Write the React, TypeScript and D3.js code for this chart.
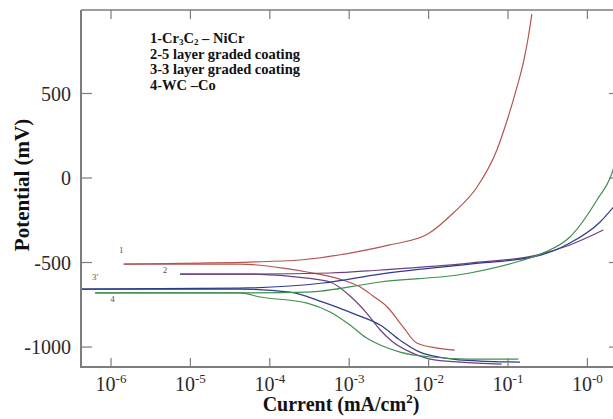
import { useEffect } from 'react'
import * as d3 from 'd3'

// log10(current, mA/cm2) and potential (mV)
const c1AnodicLogI = [-5.84, -4.88, -4.25, -3.62, -2.99, -2.49, -2.01, -1.69, -1.39, -1.14, -1.01, -0.89, -0.8, -0.74, -0.7]
const c1AnodicE = [-509, -503, -497, -485, -444, -396, -331, -207, -53, 166, 343, 533, 698, 846, 970]
const c1CathodicLogI = [-5.84, -4.88, -4.38, -3.83, -3.53, -3.12, -2.86, -2.7, -2.52, -2.32, -2.15, -1.89, -1.67]
const c1CathodicE = [-509, -509, -509, -533, -556, -598, -645, -698, -763, -882, -976, -1006, -1018]

const c2AnodicLogI = [-5.13, -4.25, -3.24, -2.61, -1.48, -0.64, -0.22, 0.2]
const c2AnodicE = [-568, -568, -562, -544, -503, -456, -396, -308]
const c2CathodicLogI = [-5.13, -4.25, -3.53, -3.24, -2.99, -2.78, -2.61, -2.45, -2.23, -1.98, -1.6, -1.08]
const c2CathodicE = [-568, -568, -592, -615, -698, -799, -899, -970, -1030, -1071, -1089, -1101]

const c3AnodicLogI = [-6.4, -4.38, -3.33, -2.61, -1.48, -0.64, -0.22, 0.16, 0.35]
const c3AnodicE = [-657, -651, -621, -568, -509, -462, -385, -260, -160]
const c3CathodicLogI = [-6.4, -4.38, -3.75, -3.33, -2.9, -2.61, -2.36, -2.11, -1.79, -1.35, -0.85]
const c3CathodicE = [-657, -657, -675, -734, -811, -870, -959, -1030, -1065, -1083, -1089]

const c4AnodicLogI = [-6.2, -4.38, -3.53, -2.61, -1.48, -0.85, -0.56, -0.22, 0.12, 0.31, 0.36]
const c4AnodicE = [-680, -680, -675, -615, -562, -491, -444, -349, -130, 30, 106]
const c4CathodicLogI = [-6.2, -4.38, -4.12, -3.53, -3.24, -2.99, -2.78, -2.61, -2.36, -1.98, -1.48, -0.87]
const c4CathodicE = [-680, -680, -704, -740, -793, -870, -947, -988, -1030, -1059, -1071, -1071]

const curveColors = ['#b4554e', '#6f3f80', '#2f3b8a', '#3f8f52']

const xTickExps = [-6, -5, -4, -3, -2, -1, 0]
const xTickSup = ['-6', '-5', '-4', '-3', '-2', '-1', '-0']
const yTicks = [500, 0, -500, -1000]

const curveLabels = ['1', '2', "3'", '4']
const curveLabelLogI = [-5.87, -5.32, -6.2, -5.98]
const curveLabelE = [-444, -560, -604, -734]

const legendItems = [
  ['1-Cr', '3', 'C', '2', ' – NiCr'],
  ['2-5 layer graded coating'],
  ['3-3 layer graded coating'],
  ['4-WC –Co'],
]

const W = 613
const H = 419
const left = 81
const right = 616
const top = 10
const bottom = 367

export default function App() {
  useEffect(() => {
    document.body.style.margin = '0'
  }, [])

  const x = d3.scaleLog().domain([10 ** -6.378, 10 ** 0.36]).range([left, right])
  const y = d3.scaleLinear().domain([-1118, 994]).range([bottom, top])

  const line = d3
    .line<[number, number]>()
    .x(d => x(10 ** d[0]))
    .y(d => y(d[1]))
    .curve(d3.curveMonotoneX)

  const zip = (a: number[], b: number[]) => a.map((v, i) => [v, b[i]] as [number, number])

  const branches = [
    { pts: zip(c1AnodicLogI, c1AnodicE), c: 0 },
    { pts: zip(c1CathodicLogI, c1CathodicE), c: 0 },
    { pts: zip(c2AnodicLogI, c2AnodicE), c: 1 },
    { pts: zip(c2CathodicLogI, c2CathodicE), c: 1 },
    { pts: zip(c3AnodicLogI, c3AnodicE), c: 2 },
    { pts: zip(c3CathodicLogI, c3CathodicE), c: 2 },
    { pts: zip(c4AnodicLogI, c4AnodicE), c: 3 },
    { pts: zip(c4CathodicLogI, c4CathodicE), c: 3 },
  ]

  const font = '"Liberation Serif", "Times New Roman", serif'
  const axisColor = '#7d7d7d'

  return (
    <svg width={W} height={H} style={{ display: 'block', background: '#fff', fontFamily: font }}>
      <defs>
        <clipPath id="plot">
          <rect x={left} y={top} width={right - left} height={bottom - top} />
        </clipPath>
      </defs>

      {/* curves */}
      <g clipPath="url(#plot)">
        {branches.map((b, i) => (
          <path key={i} d={line(b.pts) || ''} fill="none" stroke={curveColors[b.c]} strokeWidth={1.2} />
        ))}
      </g>

      {/* frame */}
      <line x1={left} x2={right} y1={top} y2={top} stroke={axisColor} strokeWidth={1.3} />
      <line x1={right} x2={right} y1={top} y2={bottom} stroke={axisColor} strokeWidth={1.3} />
      <line x1={left} x2={left} y1={top} y2={bottom + 1} stroke={axisColor} strokeWidth={2} />
      <line x1={left} x2={right} y1={bottom} y2={bottom} stroke={axisColor} strokeWidth={2} />

      {/* x ticks */}
      {xTickExps.map((e, i) => {
        const px = x(10 ** e)
        return (
          <g key={e}>
            <line x1={px} x2={px} y1={top} y2={top + 9} stroke={axisColor} strokeWidth={1.2} />
            <line x1={px} x2={px} y1={bottom} y2={bottom - 9} stroke={axisColor} strokeWidth={1.2} />
            <text x={px} y={391} textAnchor="middle" fontSize={20} fill="#2a2a2a">
              10<tspan dy={-8} fontSize={13}>{xTickSup[i]}</tspan>
            </text>
          </g>
        )
      })}

      {/* y ticks */}
      {yTicks.map(t => (
        <g key={t}>
          <line x1={left} x2={left + 11} y1={y(t)} y2={y(t)} stroke={axisColor} strokeWidth={1.2} />
          <line x1={right} x2={right - 7} y1={y(t)} y2={y(t)} stroke={axisColor} strokeWidth={1.2} />
          <text x={71} y={y(t) + 7} textAnchor="end" fontSize={20} fill="#2a2a2a">
            {t}
          </text>
        </g>
      ))}

      {/* curve labels */}
      {curveLabels.map((l, i) => (
        <text key={l} x={x(10 ** curveLabelLogI[i])} y={y(curveLabelE[i])} fontSize={9} fill="#555" textAnchor="middle">
          {l}
        </text>
      ))}

      {/* legend */}
      {legendItems.map((parts, i) => (
        <text key={i} x={150} y={43 + i * 15.5} fontSize={14.5} fontWeight="bold" fill="#111">
          {parts.length > 1 ? (
            <>
              {parts[0]}
              <tspan fontSize={9} dy={2}>{parts[1]}</tspan>
              <tspan dy={-2}>{parts[2]}</tspan>
              <tspan fontSize={9} dy={2}>{parts[3]}</tspan>
              <tspan dy={-2}>{parts[4]}</tspan>
            </>
          ) : (
            parts[0]
          )}
        </text>
      ))}

      {/* axis titles */}
      <text x={341} y={411} textAnchor="middle" fontSize={20} fontWeight="bold" fill="#111">
        Current (mA/cm<tspan dy={-8} fontSize={13}>2</tspan>
        <tspan dy={8}>)</tspan>
      </text>
      <text
        transform={`translate(29, 185) rotate(-90)`}
        textAnchor="middle"
        fontSize={21}
        fontWeight="bold"
        fill="#111"
      >
        Potential (mV)
      </text>
    </svg>
  )
}
